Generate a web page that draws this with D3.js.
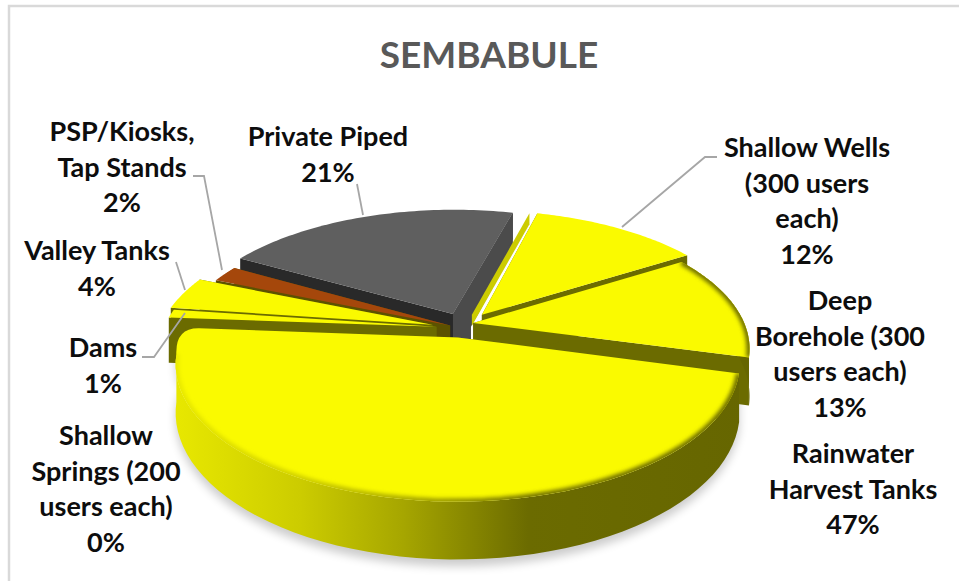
<!DOCTYPE html>
<html lang="en">
<head>
<meta charset="UTF-8" />
<title>SEMBABULE</title>
<style>
    body { margin: 0; background: #fff; }
    svg { display: block; }
    text { font-family: Lato, "Open Sans", sans-serif; font-weight: 700; text-anchor: middle; }
</style>
</head>
<body>
<svg id="chart" width="959" height="581"></svg>
<script src="https://d3js.org/d3.v7.min.js"></script>
<script>
const chartTitle = 'SEMBABULE';
// clockwise, starting from Shallow Wells
const categories = ['Shallow Wells (300 users each)', 'Deep Borehole (300 users each)', 'Rainwater Harvest Tanks',
    'Shallow Springs (200 users each)', 'Dams', 'Valley Tanks', 'PSP/Kiosks, Tap Stands', 'Private Piped'];
const percents = [12, 13, 47, 0, 1, 4, 2, 21];
const labelLines = [
    ['Shallow Wells', '(300 users', 'each)'],
    ['Deep', 'Borehole (300', 'users each)'],
    ['Rainwater', 'Harvest Tanks'],
    ['Shallow', 'Springs (200', 'users each)'],
    ['Dams'],
    ['Valley Tanks'],
    ['PSP/Kiosks,', 'Tap Stands'],
    ['Private Piped']
];

const svg = d3.select('#chart');
const defs = svg.append('defs');

// layout of the tilted pie
const cx = 461, cy = 328, rx = 273, ry = 129, persp = 0.19, depth = 46;
const startDeg = 15;
// how far each slice is pulled out, in units of the pie radius
const offsets = [[0.078, 0.104], [0.045, 0.04], [-0.0115, -0.072], [0, 0], [-0.09, 0.01], [-0.105, 0.026], [-0.04, 0.02], [-0.03, 0.11]];
const colors = ['#fafa00', '#fafa00', '#fafa00', '#fafa00', '#fafa00', '#fafa00', '#a5470b', '#5f5f5f'];
const startFaces = ['#6b6b00', '#6b6b00', '#6b6b00', '#6b6b00', '#6b6b00', '#6b6b00', '#5c5200', '#292929'];
const endFaces = ['#6b6b00', '#6b6b00', '#6b6b00', '#6b6b00', '#6b6b00', '#6b6b00', '#5c5200', '#4b4b4b'];
const drawOrder = [7, 0, 6, 5, 4, 1, 2];

// label blocks: centre x, first baseline
const labelPos = [[807, 157], [840, 310], [853, 463], [106, 445], [103, 357], [97, 260], [122, 141], [328, 146]];
const labelGap = 35.7;

const leaders = [
    [[717, 157], [705, 157], [622, 227]],
    [[193, 176], [204, 176], [222, 270]],
    [[176, 262], [185, 290]],
    [[142, 357], [154, 357], [185, 313]],
    [[357, 184], [363, 215]]
];

function project(px, py, z) {
    const w = 1 + persp * py;
    return [cx + rx * px / w, cy - (ry * py - depth * z) / w];
}

const pie = d3.pie().sort(null).value((d) => d)
    .startAngle(startDeg * Math.PI / 180).endAngle((startDeg + 360) * Math.PI / 180);
const arcs = pie(percents);

const line = d3.line();

arcs.forEach((a) => {
    const [ox, oy] = offsets[a.index];
    a.rim = (z) => d3.range(0, 61).map((i) => {
        const t = a.startAngle + (a.endAngle - a.startAngle) * i / 60;
        return project(ox + Math.sin(t), oy + Math.cos(t), z);
    });
    a.apex = (z) => project(ox, oy, z);
});

// gradient on the outer wall
const wall = defs.append('linearGradient').attr('id', 'wall')
    .attr('gradientUnits', 'userSpaceOnUse').attr('x1', 175).attr('x2', 745).attr('y1', 0).attr('y2', 0);
[[0, '#e8e800'], [0.22, '#cccc00'], [0.4, '#a6a600'], [0.62, '#6b6b00'], [1, '#666600']].forEach((s) => {
    wall.append('stop').attr('offset', s[0]).attr('stop-color', s[1]);
});
defs.append('filter').attr('id', 'soft').attr('x', '-10%').attr('y', '-10%').attr('width', '120%').attr('height', '130%')
    .append('feGaussianBlur').attr('stdDeviation', 5);
defs.append('filter').attr('id', 'edge').attr('x', '-10%').attr('y', '-10%').attr('width', '120%').attr('height', '120%')
    .append('feGaussianBlur').attr('stdDeviation', 2);

// frame, only the top and left sides show
svg.append('path').attr('d', line([[9, 581], [9, 6], [959, 6]])).attr('fill', 'none').attr('stroke', '#d9d9d9').attr('stroke-width', 2.5);

svg.append('text').attr('x', 489).attr('y', 68).attr('fill', '#595959').style('font-size', '37px').text(chartTitle);

// soft shadow under the pie
const rainArc = arcs[2];
svg.append('path')
    .attr('d', line(rainArc.rim(1.12).concat(rainArc.rim(0).reverse())) + 'Z')
    .attr('fill', '#000').attr('opacity', 0.2).attr('filter', 'url(#soft)');

const slices = svg.append('g');
drawOrder.forEach((i) => {
    const a = arcs[i];
    const g = slices.append('g');

    const top = a.rim(0), bot = a.rim(1);
    const tip = a.apex(0);

    // the lighter strip left of Shallow Wells
    if (i === 0) {
        g.append('path').attr('d', line([
            [tip[0] - 10, tip[1]], [top[0][0] - 8, top[0][1]], [top[0][0] - 8, top[0][1] + 11], [tip[0] - 10, tip[1] + 11]
        ]) + 'Z').attr('fill', '#cccc00');
    }

    // the two cut faces; top[0] is the counter-clockwise edge
    g.append('path').attr('d', line([tip, top[60], bot[60], a.apex(1)]) + 'Z').attr('fill', endFaces[i]);
    g.append('path').attr('d', line([tip, top[0], bot[0], a.apex(1)]) + 'Z').attr('fill', startFaces[i]);

    // grey column at the tip of Private Piped
    if (i === 7) {
        const e = top[60];
        g.append('path').attr('d', line([
            tip, e, [e[0], e[1] + 26], [tip[0] + 18, tip[1]], [tip[0] + 18, tip[1] + 28], [tip[0], tip[1] + 28]
        ]) + 'Z').attr('fill', endFaces[i]);
    }

    // big slice has a rounded corner on the left
    const keep = i === 2 ? 56 : 60;
    const rimKept = top.slice(0, keep + 1);

    // outer wall, only the front slices show it
    if (i === 1 || i === 2) {
        g.append('path').attr('d', line(rimKept.concat(bot.slice(0, keep + 1).reverse())) + 'Z').attr('fill', 'url(#wall)');
    }

    let topPath = line([tip].concat(rimKept));
    if (i === 2) {
        const c = top[60];
        const inner = [c[0] + (tip[0] - c[0]) * 0.05, c[1] + (tip[1] - c[1]) * 0.05];
        topPath += `Q${rimKept[keep][0] - 1},${c[1]} ${inner[0]},${inner[1]}`;
    }
    topPath += 'Z';
    g.append('path').attr('d', topPath).attr('fill', colors[i]);

    // dark soft edge inside the rim
    if (i === 1 || i === 2) {
        defs.append('clipPath').attr('id', 'top' + i).append('path').attr('d', topPath);
        g.append('g').attr('clip-path', `url(#top${i})`)
            .append('path').attr('d', line(rimKept)).attr('fill', 'none').attr('stroke', 'url(#wall)')
            .attr('stroke-width', 6).attr('filter', 'url(#edge)');
    }
});

svg.append('g').selectAll('path').data(leaders).join('path')
    .attr('d', (d) => line(d)).attr('fill', 'none').attr('stroke', '#a6a6a6').attr('stroke-width', 1.8);

const labels = svg.append('g').attr('fill', '#0d0d0d').style('font-size', '27px');
categories.forEach((name, i) => {
    const lines = labelLines[i].concat([percents[i] + '%']);
    const g = labels.append('text').attr('aria-label', name);
    lines.forEach((t, k) => {
        g.append('tspan').attr('x', labelPos[i][0]).attr('y', labelPos[i][1] + k * labelGap).text(t);
    });
});
</script>
</body>
</html>
